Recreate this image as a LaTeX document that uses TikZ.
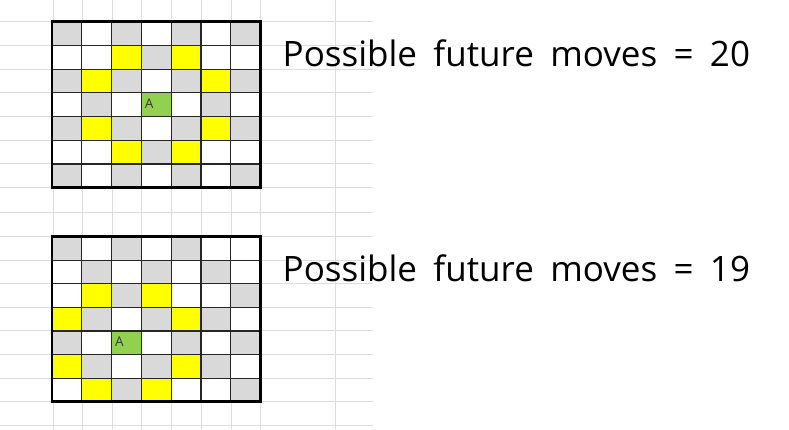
\documentclass[tikz,border=0pt]{standalone}
\usepackage{fontspec}
\setmainfont{Open Sans}
\definecolor{bgline}{HTML}{DDDDDD}
\definecolor{cellG}{HTML}{D9D9D9}
\definecolor{cellW}{HTML}{FFFFFF}
\definecolor{cellY}{HTML}{FFFF00}
\definecolor{cellA}{HTML}{92D050}
\definecolor{inner}{HTML}{262626}
\definecolor{atext}{HTML}{3A3A3A}
\tikzset{
  bggrid/.style={draw=bgline, line width=1pt},
  innerline/.style={draw=inner, line width=1.2pt},
  outerline/.style={draw=black, line width=2.7pt},
  movetext/.style={font=\fontsize{35}{42}\selectfont, anchor=base west, inner sep=0pt},
  alabel/.style={font=\fontsize{13.5}{16}\selectfont, text=atext, anchor=base west, inner sep=0pt}
}
\newcommand{\boardgrid}[3]{% #1 top y, #2 row height, #3 rows spec
  \foreach \rowspec [count=\r from 0] in {#3} {
    \foreach \c [count=\k from 0] in \rowspec {
      \fill[cell\c] (52+29.78*\k, #1+#2*\r) rectangle (52+29.78*\k+29.78, #1+#2*\r+#2);
    }
  }
  \foreach \k in {1,...,6} {
    \draw[innerline] (52+29.78*\k, #1) -- (52+29.78*\k, #1+#2*7);
    \draw[innerline] (52, #1+#2*\k) -- (260.5, #1+#2*\k);
  }
  \draw[outerline] (52, #1) rectangle (260.5, #1+#2*7);
}
\newcommand{\wsp}{\hspace{16.4pt}}
\newcommand{\movesline}[1]{Possible\wsp future\wsp moves\wsp =\wsp #1}
\begin{document}
\begin{tikzpicture}[x=1pt,y=-1pt]
\useasboundingbox (0,0) rectangle (789,430);
\fill[white] (0,0) rectangle (789,430);
% spreadsheet background lines
\foreach \xx in {53,82.3,112.1,141.9,171.7,201.5,231.2,260.5,335} {
  \draw[bggrid] (\xx,0) -- (\xx,430);
}
\foreach \yy in {21.7,45.41,69.12,92.83,116.54,140.25,163.96,187.7,212.2,236.7,260.27,283.84,307.41,330.98,354.55,378.12,401.7,425.7} {
  \draw[bggrid] (0,\yy) -- (373,\yy);
}
% top board
\boardgrid{21.7}{23.71}{{G,W,G,W,G,W,G},{W,W,Y,G,Y,W,W},{G,Y,G,W,G,Y,G},{W,G,W,A,W,G,W},{G,Y,G,W,G,Y,G},{W,W,Y,G,Y,W,W},{G,W,G,W,G,W,G}}
\node[alabel] (a1) at (144.6,108.3) {A};
% bottom board
\boardgrid{236.7}{23.57}{{G,W,G,W,G,W,W},{W,G,W,G,W,G,W},{W,Y,G,Y,W,W,G},{Y,G,W,G,Y,G,W},{G,W,A,W,G,W,G},{Y,G,W,G,Y,G,W},{W,Y,G,Y,W,W,G}}
\node[alabel] (a2) at (114.8,346.4) {A};
% texts
\node[movetext] (t1) at (282.5,67) {\movesline{20}};
\node[movetext] (t2) at (282.5,281) {\movesline{19}};
\end{tikzpicture}
\end{document}
